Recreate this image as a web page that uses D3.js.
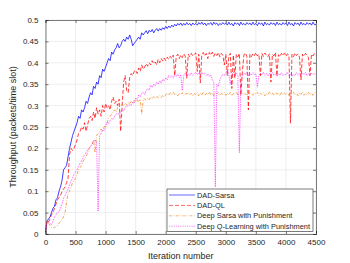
<!DOCTYPE html>
<meta charset="utf-8">
<style>
body{margin:0;background:#fff;}
svg{display:block}
text{font-family:"Liberation Sans",Arial,sans-serif;fill:#262626;}
</style>
<svg id="chart" width="350" height="263"></svg>
<script src="https://d3js.org/d3.v7.min.js"></script>
<script>
// iterations sampled every 25 steps, 0..4500
const STEP = 25

const sarsa = [
  0.005,0.03,0.035,0.04,0.05,0.06,0.065,0.08,0.085,0.1,0.11,0.125,0.15,0.155,0.16,0.18,0.2,0.215,0.23,0.24,
  0.25,0.26,0.275,0.27,0.29,0.285,0.295,0.31,0.305,0.32,0.33,0.325,0.345,0.34,0.355,0.35,0.37,0.365,0.385,0.38,
  0.39,0.4,0.41,0.405,0.425,0.42,0.43,0.435,0.445,0.435,0.44,0.45,0.455,0.45,0.46,0.455,0.465,0.455,0.44,0.445,
  0.45,0.455,0.46,0.455,0.47,0.465,0.47,0.475,0.468,0.476,0.472,0.478,0.47,0.476,0.48,0.474,0.48,0.476,0.482,0.478,
  0.485,0.48,0.486,0.482,0.488,0.484,0.49,0.486,0.492,0.488,0.493,0.487,0.492,0.488,0.494,0.489,0.492,0.487,0.493,0.489,
  0.492,0.488,0.494,0.49,0.495,0.489,0.493,0.487,0.492,0.49,0.494,0.488,0.495,0.49,0.493,0.487,0.492,0.489,0.494,0.49,
  0.493,0.488,0.495,0.489,0.492,0.486,0.494,0.49,0.493,0.487,0.495,0.489,0.492,0.488,0.494,0.49,0.493,0.488,0.495,0.489,
  0.492,0.487,0.494,0.49,0.493,0.486,0.495,0.489,0.492,0.488,0.494,0.49,0.493,0.487,0.495,0.489,0.492,0.488,0.494,0.49,
  0.493,0.487,0.495,0.489,0.492,0.486,0.494,0.49,0.493,0.487,0.495,0.489,0.492,0.488,0.494,0.49,0.493,0.488,0.495,0.489,
  0.49
]

const ql = [
  0.005,0.03,0.028,0.035,0.045,0.05,0.06,0.07,0.08,0.085,0.09,0.1,0.105,0.11,0.12,0.13,0.185,0.2,0.195,0.2,
  0.21,0.22,0.235,0.24,0.25,0.245,0.26,0.24,0.255,0.27,0.275,0.265,0.285,0.27,0.295,0.28,0.29,0.275,0.3,0.285,
  0.305,0.295,0.3,0.29,0.31,0.32,0.305,0.31,0.3,0.315,0.24,0.3,0.355,0.37,0.335,0.33,0.365,0.375,0.37,0.38,
  0.383,0.375,0.388,0.38,0.395,0.385,0.39,0.398,0.392,0.4,0.395,0.405,0.398,0.402,0.395,0.408,0.4,0.41,0.404,0.411,
  0.405,0.413,0.408,0.415,0.41,0.418,0.37,0.415,0.42,0.41,0.418,0.412,0.421,0.415,0.364,0.42,0.414,0.422,0.416,0.42,
  0.423,0.38,0.42,0.353,0.418,0.424,0.416,0.422,0.41,0.424,0.418,0.425,0.415,0.423,0.417,0.424,0.414,0.422,0.418,0.395,
  0.42,0.37,0.416,0.422,0.34,0.418,0.364,0.42,0.414,0.422,0.325,0.38,0.418,0.423,0.415,0.29,0.42,0.414,0.422,0.417,
  0.424,0.416,0.42,0.37,0.422,0.415,0.423,0.418,0.414,0.421,0.355,0.42,0.416,0.424,0.37,0.419,0.414,0.422,0.417,0.423,
  0.415,0.421,0.418,0.259,0.42,0.414,0.423,0.417,0.421,0.413,0.36,0.42,0.415,0.422,0.418,0.412,0.37,0.42,0.416,0.422,
  0.418
]

const sarsaPun = [
  0.005,0.03,0.025,0.02,0.015,0.014,0.015,0.018,0.02,0.025,0.03,0.033,0.04,0.05,0.075,0.095,0.1,0.11,0.12,0.125,
  0.13,0.14,0.15,0.155,0.16,0.17,0.175,0.18,0.19,0.2,0.205,0.21,0.22,0.19,0.23,0.235,0.24,0.245,0.24,0.25,
  0.255,0.26,0.27,0.275,0.28,0.285,0.29,0.285,0.295,0.3,0.298,0.303,0.3,0.305,0.302,0.307,0.304,0.31,0.306,0.312,
  0.308,0.313,0.31,0.315,0.28,0.312,0.316,0.313,0.318,0.314,0.32,0.316,0.321,0.317,0.322,0.318,0.323,0.319,0.324,0.32,
  0.325,0.329,0.324,0.33,0.326,0.331,0.325,0.328,0.323,0.329,0.326,0.33,0.324,0.328,0.327,0.331,0.325,0.329,0.323,0.328,
  0.326,0.33,0.323,0.329,0.325,0.331,0.324,0.328,0.326,0.332,0.325,0.329,0.323,0.33,0.327,0.331,0.324,0.328,0.326,0.33,
  0.324,0.329,0.325,0.331,0.323,0.328,0.327,0.332,0.324,0.329,0.326,0.33,0.325,0.328,0.323,0.331,0.326,0.329,0.324,0.33,
  0.327,0.331,0.324,0.329,0.326,0.33,0.323,0.328,0.325,0.332,0.326,0.329,0.324,0.33,0.327,0.328,0.323,0.331,0.325,0.329,
  0.326,0.33,0.324,0.328,0.327,0.331,0.325,0.329,0.323,0.33,0.326,0.332,0.324,0.328,0.325,0.331,0.326,0.329,0.324,0.33,
  0.327
]

const qlPun = [
  0.005,0.03,0.028,0.025,0.022,0.03,0.04,0.045,0.05,0.052,0.06,0.07,0.084,0.09,0.098,0.105,0.115,0.125,0.13,0.14,
  0.145,0.15,0.158,0.165,0.17,0.178,0.185,0.19,0.196,0.2,0.205,0.21,0.215,0.22,0.215,0.053,0.23,0.235,0.243,0.24,
  0.25,0.262,0.258,0.265,0.27,0.268,0.275,0.28,0.283,0.278,0.285,0.29,0.288,0.295,0.3,0.298,0.303,0.3,0.308,0.305,
  0.318,0.312,0.325,0.32,0.328,0.332,0.326,0.335,0.34,0.336,0.348,0.342,0.35,0.346,0.355,0.35,0.358,0.352,0.362,0.357,
  0.365,0.36,0.371,0.366,0.37,0.364,0.372,0.368,0.374,0.366,0.372,0.335,0.37,0.376,0.368,0.374,0.37,0.377,0.371,0.375,
  0.378,0.372,0.376,0.37,0.378,0.373,0.376,0.37,0.374,0.368,0.372,0.36,0.355,0.11,0.35,0.345,0.36,0.368,0.374,0.37,
  0.376,0.383,0.372,0.35,0.374,0.378,0.37,0.376,0.372,0.19,0.355,0.37,0.376,0.372,0.378,0.37,0.375,0.371,0.377,0.372,
  0.374,0.343,0.37,0.376,0.372,0.378,0.371,0.375,0.369,0.376,0.372,0.378,0.37,0.374,0.368,0.375,0.371,0.377,0.37,0.374,
  0.372,0.378,0.37,0.375,0.368,0.374,0.37,0.377,0.371,0.375,0.369,0.376,0.372,0.378,0.37,0.374,0.371,0.376,0.372,0.375,
  0.373
]

const xTicks = [0,500,1000,1500,2000,2500,3000,3500,4000,4500]
const yTicks = [0,0.05,0.1,0.15,0.2,0.25,0.3,0.35,0.4,0.45,0.5]

const series = [
  {name:'DAD-Sarsa', values:sarsa, color:'#0000ff', dash:null},
  {name:'DAD-QL', values:ql, color:'#ff0000', dash:'4,2'},
  {name:'Deep Sarsa with Punishment', values:sarsaPun, color:'#f0841a', dash:'3,1.5,0.8,1.5'},
  {name:'Deep Q-Learning with Punishment', values:qlPun, color:'#ff00ff', dash:'0.8,1'}
]

const svg = d3.select('#chart')
const L = 45.5, R = 316, T = 20, B = 234

const x = d3.scaleLinear().domain([0,4500]).range([L,R])
const y = d3.scaleLinear().domain([0,0.5]).range([B,T])

// grid
svg.append('g').selectAll('line').data(xTicks).join('line')
  .attr('x1', d=>x(d)).attr('x2', d=>x(d)).attr('y1', T).attr('y2', B)
  .attr('stroke', '#e3e3e3').attr('stroke-width', 0.6)
svg.append('g').selectAll('line').data(yTicks).join('line')
  .attr('y1', d=>y(d)).attr('y2', d=>y(d)).attr('x1', L).attr('x2', R)
  .attr('stroke', '#e3e3e3').attr('stroke-width', 0.6)

// lines
const line = d3.line().x((d,i)=>x(i*STEP)).y(d=>y(d))
svg.append('g').selectAll('path').data(series).join('path')
  .attr('d', d=>line(d.values))
  .attr('fill', 'none')
  .attr('stroke', d=>d.color)
  .attr('stroke-width', 0.75)
  .attr('stroke-dasharray', d=>d.dash)

// axes
const xAxis = d3.axisBottom(x).tickValues(xTicks).tickSize(-3).tickPadding(5).tickFormat(d3.format('d'))
const yAxis = d3.axisLeft(y).tickValues(yTicks).tickSize(-3).tickPadding(7).tickFormat(d=>d3.format('')(d))
svg.append('g').attr('transform', `translate(0,${B})`).call(xAxis)
svg.append('g').attr('transform', `translate(${L},0)`).call(yAxis)
svg.append('g').attr('transform', `translate(0,${T})`).call(d3.axisTop(x).tickValues(xTicks).tickSize(-3).tickFormat(''))
svg.append('g').attr('transform', `translate(${R},0)`).call(d3.axisRight(y).tickValues(yTicks).tickSize(-3).tickFormat(''))
svg.selectAll('.domain, .tick line').attr('stroke', '#262626').attr('stroke-width', 0.6)
svg.selectAll('.tick text').style('font-size', '8px').attr('fill', '#262626')

svg.append('text').attr('x', (L+R)/2).attr('y', 259).attr('text-anchor', 'middle')
  .style('font-size', '9px').text('Iteration number')
svg.append('text').attr('transform', `translate(16,${(T+B)/2}) rotate(-90)`).attr('text-anchor', 'middle')
  .style('font-size', '9px').text('Throughput (packets/time slot)')

// legend
const lg = svg.append('g').attr('transform', 'translate(167,189)')
lg.append('rect').attr('width', 146).attr('height', 42.5)
  .attr('fill', '#fff').attr('stroke', '#262626').attr('stroke-width', 0.6)
const items = lg.selectAll('g').data(series).join('g')
  .attr('transform', (d,i)=>`translate(0,${6 + i*10.4})`)
items.append('line').attr('x1', 2).attr('x2', 28)
  .attr('stroke', d=>d.color).attr('stroke-width', 0.6).attr('stroke-dasharray', d=>d.dash)
items.append('text').attr('x', 30).attr('dy', '0.35em').style('font-size', '7.4px').text(d=>d.name)
</script>
